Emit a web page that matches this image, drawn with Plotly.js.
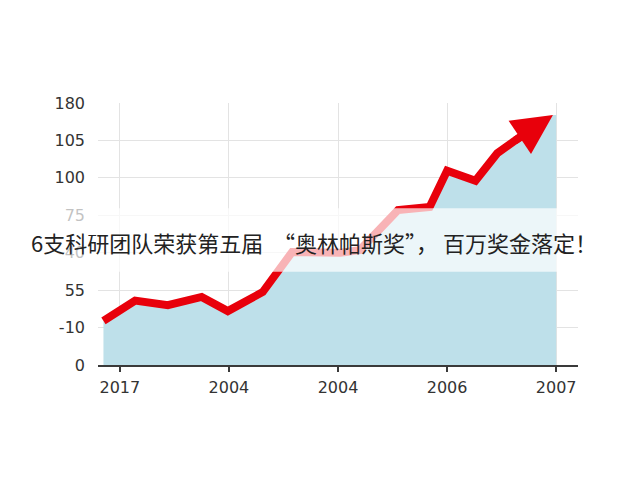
<!DOCTYPE html>
<html>
<head>
<meta charset="utf-8">
<script src="https://cdn.plot.ly/plotly-3.0.1.min.js"></script>
<style>
  html, body { margin: 0; padding: 0; background: #fff; }
  #chart { width: 640px; height: 480px; }
</style>
</head>
<body>
<div id="chart"></div>
<script>
// Tick labels as printed on the picture (the axis is evenly spaced, not numeric)
const yTickLabels = ['0', '-10', '55', '-40', '75', '100', '105', '180'];
const xTickLabels = ['2017', '2004', '2004', '2006', '2007'];

// Line points, in tick-slot units
const lineX = [-0.15, 0.14, 0.44, 0.75, 0.99, 1.31, 1.58, 2.02, 2.20, 2.55, 2.84, 3.00, 3.26, 3.46, 3.61, 3.97];
const lineY = [1.18, 1.72, 1.60, 1.82, 1.44, 1.95, 3.02, 3.00, 3.07, 4.14, 4.22, 5.19, 4.92, 5.66, 5.97, 6.68];

const bannerText = '6支科研团队荣获第五届  \u201c奥林帕斯奖\u201d， 百万奖金落定！';

const n = lineX.length;
const yTickVals = yTickLabels.map(function (_, i) { return i; });
const xTickVals = xTickLabels.map(function (_, i) { return i; });

// Area: line points plus the right edge of the last slot
const fillTrace = {
    type: 'scatter',
    mode: 'lines',
    x: lineX.concat([xTickVals[xTickVals.length - 1]]),
    y: lineY.concat([lineY[n - 1]]),
    fill: 'tozeroy',
    fillcolor: '#bee0ea',
    line: { width: 0, color: '#bee0ea' },
    hoverinfo: 'skip'
};

// the line runs a bit into the last segment so it meets the arrow shaft
const joinX = lineX[n - 2] + 0.45 * (lineX[n - 1] - lineX[n - 2]);
const joinY = lineY[n - 2] + 0.45 * (lineY[n - 1] - lineY[n - 2]);

const lineTrace = {
    type: 'scatter',
    mode: 'lines',
    x: lineX.slice(0, n - 1).concat([joinX]),
    y: lineY.slice(0, n - 1).concat([joinY]),
    line: { color: '#e8000b', width: 8, shape: 'linear' },
    hoverinfo: 'skip'
};

const layout = {
    width: 640,
    height: 480,
    margin: { t: 103, r: 62, b: 115, l: 98 },
    paper_bgcolor: '#ffffff',
    plot_bgcolor: '#ffffff',
    showlegend: false,
    font: { family: 'DejaVu Sans, sans-serif', color: '#333333' },
    xaxis: {
        range: [-0.2, 4.2],
        tickvals: xTickVals,
        ticktext: xTickLabels,
        tickfont: { size: 16, color: '#333333' },
        showgrid: true,
        gridcolor: '#e3e3e3',
        gridwidth: 1,
        zeroline: false,
        showline: true,
        linecolor: '#3a3a3a',
        linewidth: 2,
        ticks: 'outside',
        ticklen: 5,
        tickwidth: 1.5,
        tickcolor: '#3a3a3a',
        ticklabelstandoff: 2,
        fixedrange: true
    },
    yaxis: {
        range: [0, 7],
        tickvals: yTickVals,
        ticktext: yTickLabels,
        tickfont: { size: 16, color: '#333333' },
        showgrid: true,
        gridcolor: '#e3e3e3',
        gridwidth: 1,
        zeroline: false,
        showline: false,
        ticks: '',
        ticklabelstandoff: 12,
        fixedrange: true
    },
    shapes: [{
        // translucent white band behind the headline
        type: 'rect',
        xref: 'paper',
        yref: 'y',
        x0: -0.3,
        x1: 1.3,
        y0: 2.49,
        y1: 4.19,
        fillcolor: 'rgba(255,255,255,0.7)',
        line: { width: 0 },
        layer: 'above'
    }],
    annotations: [{
        // arrow head at the end of the line
        x: lineX[n - 1],
        y: lineY[n - 1],
        ax: lineX[n - 2],
        ay: lineY[n - 2],
        xref: 'x',
        yref: 'y',
        axref: 'x',
        ayref: 'y',
        showarrow: true,
        arrowhead: 2,
        arrowsize: 1.0,
        arrowwidth: 8,
        arrowcolor: '#e8000b',
        standoff: 0,
        text: ''
    }, {
        text: bannerText,
        xref: 'paper',
        yref: 'y',
        x: 0.45,
        y: 3.29,
        showarrow: false,
        xanchor: 'center',
        yanchor: 'middle',
        font: { family: 'Noto Sans CJK SC, sans-serif', size: 22, color: '#222222' }
    }]
};

const config = { displayModeBar: false, staticPlot: true };

Plotly.newPlot('chart', [fillTrace, lineTrace], layout, config);
</script>
</body>
</html>
